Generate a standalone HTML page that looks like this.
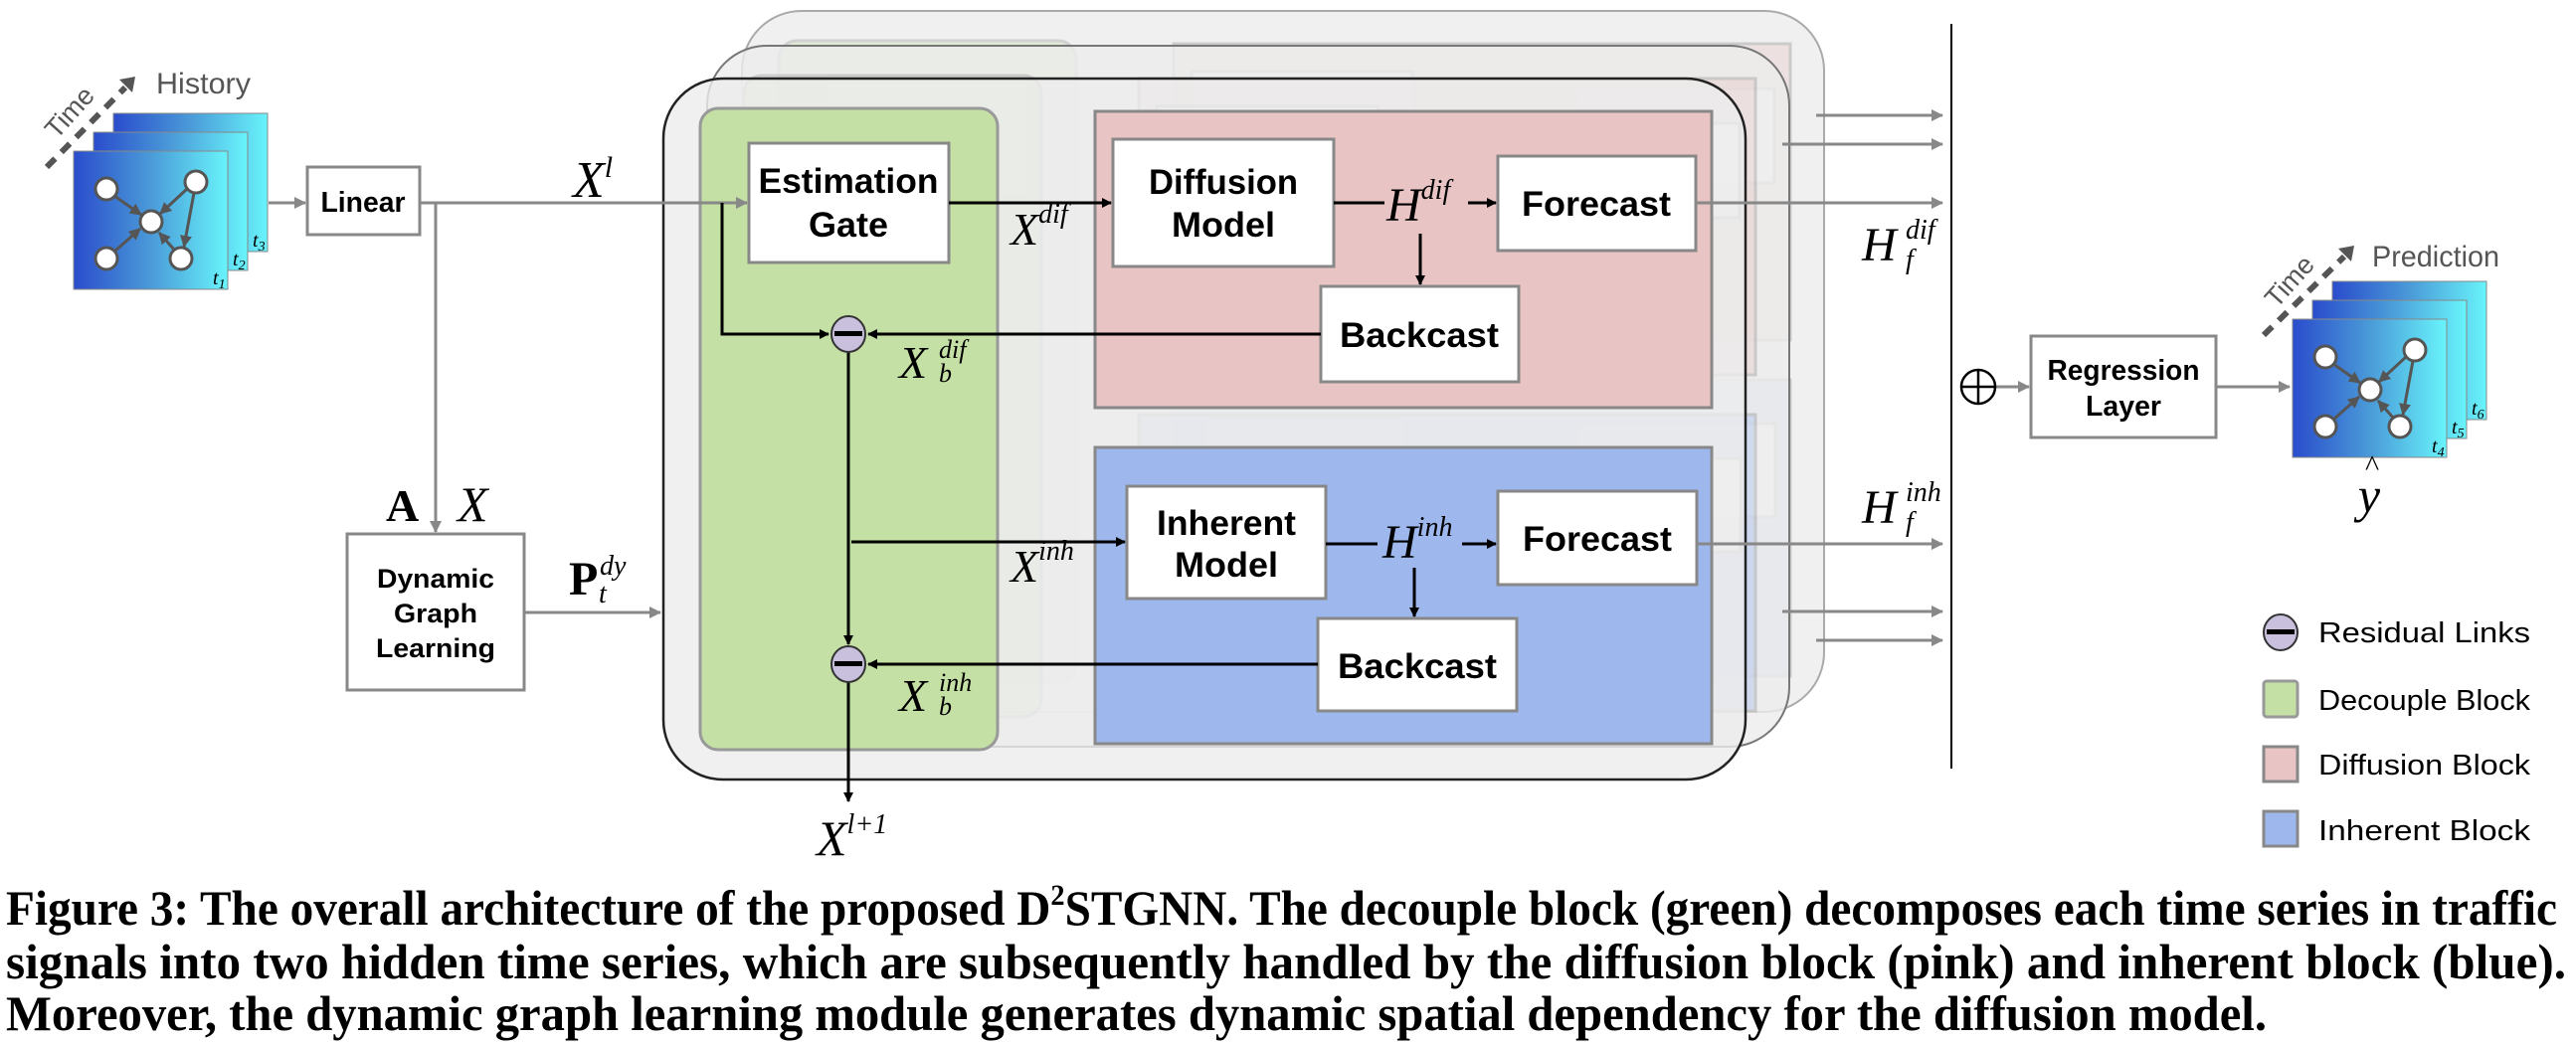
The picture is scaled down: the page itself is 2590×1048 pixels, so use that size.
<!DOCTYPE html>
<html><head><meta charset="utf-8"><style>
html,body{margin:0;padding:0;background:#fff;}
svg{display:block;}
.b{font-family:"Liberation Sans",sans-serif;font-weight:bold;fill:#000;}
.m{font-family:"Liberation Serif",serif;font-style:italic;fill:#000;}
.cap{font-family:"Liberation Serif",serif;font-weight:bold;fill:#000;font-size:50px;}
</style></head><body>
<svg width="2590" height="1048" viewBox="0 0 2590 1048" xmlns="http://www.w3.org/2000/svg">
<defs>
<marker id="ak" markerWidth="10" markerHeight="10" refX="9" refY="5" orient="auto" markerUnits="userSpaceOnUse"><path d="M0,0 L10,5 L0,10 z" fill="#000"/></marker>
<marker id="ag" markerWidth="12" markerHeight="12" refX="11" refY="6" orient="auto" markerUnits="userSpaceOnUse"><path d="M0,0 L12,6 L0,12 z" fill="#888"/></marker>
<marker id="an" markerWidth="12" markerHeight="12" refX="11" refY="6" orient="auto" markerUnits="userSpaceOnUse"><path d="M0,0 L12,6 L0,12 z" fill="#555"/></marker>
<linearGradient id="fg" x1="0" x2="1" y1="0" y2="0"><stop offset="0" stop-color="#2a4ccc"/><stop offset="0.5" stop-color="#4a9ad8"/><stop offset="1" stop-color="#68f4fb"/></linearGradient>
<g id="layer">
  <rect x="704" y="109" width="299" height="645" rx="18" fill="#c5e0a5" stroke="#999" stroke-width="3"/>
  <rect x="1101" y="112" width="620" height="298" fill="#e8c4c4" stroke="#888" stroke-width="3"/>
  <rect x="1101" y="450" width="620" height="298" fill="#9eb8ee" stroke="#888" stroke-width="3"/>
  <rect x="753" y="144" width="201" height="120" fill="#fff" stroke="#888" stroke-width="3"/>
  <rect x="1119" y="140" width="222" height="128" fill="#fff" stroke="#888" stroke-width="3"/>
  <rect x="1506" y="157" width="199" height="95" fill="#fff" stroke="#888" stroke-width="3"/>
  <rect x="1328" y="288" width="199" height="96" fill="#fff" stroke="#888" stroke-width="3"/>
  <rect x="1133" y="489" width="200" height="113" fill="#fff" stroke="#888" stroke-width="3"/>
  <rect x="1506" y="494" width="200" height="94" fill="#fff" stroke="#888" stroke-width="3"/>
  <rect x="1325" y="622" width="200" height="93" fill="#fff" stroke="#888" stroke-width="3"/>
</g>
<g id="frame">
  <rect x="40" y="-38" width="155" height="139" fill="url(#fg)" stroke="#888" stroke-width="1"/>
  <rect x="20" y="-19" width="155" height="139" fill="url(#fg)" stroke="#888" stroke-width="1"/>
  <rect x="0" y="0" width="155" height="139" fill="url(#fg)" stroke="#888" stroke-width="1"/>
  <g stroke="#555" stroke-width="3" fill="none">
    <line x1="41" y1="45" x2="68" y2="64" marker-end="url(#an)"/>
    <line x1="114" y1="38" x2="87" y2="63" marker-end="url(#an)"/>
    <line x1="121" y1="42" x2="111" y2="96" marker-end="url(#an)"/>
    <line x1="41" y1="101" x2="67" y2="78" marker-end="url(#an)"/>
    <line x1="101" y1="99" x2="86" y2="82" marker-end="url(#an)"/>
  </g>
  <g fill="#fff" stroke="#555" stroke-width="3">
    <circle cx="33" cy="38" r="11"/><circle cx="123" cy="31" r="11"/><circle cx="78" cy="71" r="11"/>
    <circle cx="33" cy="108" r="11"/><circle cx="108" cy="108" r="11"/>
  </g>
</g>
</defs>

<!-- stacked layers -->
<g transform="translate(79,-68)">
  <rect x="667" y="79" width="1088" height="705" rx="60" fill="#f0f0f0" stroke="#aaa" stroke-width="2"/>
  <use href="#layer" opacity="0.35"/>
</g>
<g transform="translate(44,-33)">
  <rect x="667" y="79" width="1088" height="705" rx="60" fill="rgba(236,236,236,0.8)" stroke="#777" stroke-width="2"/>
  <use href="#layer" opacity="0.35"/>
</g>
<rect x="667" y="79" width="1088" height="705" rx="60" fill="rgba(236,236,236,0.8)" stroke="#222" stroke-width="2.5"/>
<use href="#layer"/>

<!-- history -->
<use href="#frame" transform="translate(74,152)"/>
<g class="m" font-size="20"><text x="214" y="286">t<tspan font-size="14" dy="4">1</tspan></text><text x="234" y="267">t<tspan font-size="14" dy="4">2</tspan></text><text x="254" y="248">t<tspan font-size="14" dy="4">3</tspan></text></g>
<line x1="47" y1="168" x2="126" y2="88" stroke="#555" stroke-width="6" stroke-dasharray="12,9"/>
<path d="M120,80 L136,77 L133,93 z" fill="#555"/>
<text x="70" y="122" font-family="Liberation Sans,sans-serif" font-size="27" fill="#555" transform="rotate(-48 70 113)" text-anchor="middle">Time</text>
<text x="157" y="94" font-family="Liberation Sans,sans-serif" font-size="30" fill="#555" textLength="95" lengthAdjust="spacingAndGlyphs">History</text>

<!-- prediction -->
<use href="#frame" transform="translate(2305,321)"/>
<g class="m" font-size="20"><text x="2445" y="455">t<tspan font-size="14" dy="4">4</tspan></text><text x="2465" y="436">t<tspan font-size="14" dy="4">5</tspan></text><text x="2485" y="417">t<tspan font-size="14" dy="4">6</tspan></text></g>
<line x1="2276" y1="337" x2="2357" y2="258" stroke="#555" stroke-width="6" stroke-dasharray="12,9"/>
<path d="M2351,250 L2367,247 L2364,263 z" fill="#555"/>
<text x="2302" y="292" font-family="Liberation Sans,sans-serif" font-size="27" fill="#555" transform="rotate(-48 2302 283)" text-anchor="middle">Time</text>
<text x="2385" y="268" font-family="Liberation Sans,sans-serif" font-size="30" fill="#555" textLength="128" lengthAdjust="spacingAndGlyphs">Prediction</text>
<text x="2382" y="515" class="m" font-size="50" text-anchor="middle">y</text>
<text x="2385" y="478" font-family="Liberation Serif,serif" font-size="30" text-anchor="middle">^</text>

<!-- Linear & DGL -->
<rect x="309" y="168" width="113" height="68" fill="#fff" stroke="#888" stroke-width="3"/>
<text x="365" y="213" class="b" font-size="29" text-anchor="middle" textLength="85" lengthAdjust="spacingAndGlyphs">Linear</text>
<rect x="349" y="537" width="178" height="157" fill="#fff" stroke="#888" stroke-width="3"/>
<g class="b" font-size="27" text-anchor="middle">
<text x="438" y="591" textLength="118" lengthAdjust="spacingAndGlyphs">Dynamic</text>
<text x="438" y="626" textLength="84" lengthAdjust="spacingAndGlyphs">Graph</text>
<text x="438" y="661" textLength="120" lengthAdjust="spacingAndGlyphs">Learning</text>
</g>

<!-- gray connectors -->
<g stroke="#888" stroke-width="3" fill="none">
<line x1="270" y1="204" x2="307" y2="204" marker-end="url(#ag)"/>
<line x1="422" y1="204" x2="751" y2="204" marker-end="url(#ag)"/>
<line x1="438" y1="204" x2="438" y2="535" marker-end="url(#ag)"/>
<line x1="527" y1="616" x2="664" y2="616" marker-end="url(#ag)"/>
<line x1="1705" y1="204" x2="1953" y2="204" marker-end="url(#ag)"/>
<line x1="1706" y1="547" x2="1953" y2="547" marker-end="url(#ag)"/>
<line x1="1826" y1="116" x2="1953" y2="116" marker-end="url(#ag)"/>
<line x1="1792" y1="145" x2="1953" y2="145" marker-end="url(#ag)"/>
<line x1="1792" y1="615" x2="1953" y2="615" marker-end="url(#ag)"/>
<line x1="1826" y1="644" x2="1953" y2="644" marker-end="url(#ag)"/>
<line x1="2006" y1="389" x2="2040" y2="389" marker-end="url(#ag)"/>
<line x1="2228" y1="389" x2="2302" y2="389" marker-end="url(#ag)"/>
</g>

<!-- black connectors -->
<g stroke="#000" stroke-width="3" fill="none">
<line x1="954" y1="204" x2="1117" y2="204" marker-end="url(#ak)"/>
<polyline points="726,204 726,336 833,336" marker-end="url(#ak)"/>
<line x1="1341" y1="204" x2="1392" y2="204"/>
<line x1="1476" y1="204" x2="1504" y2="204" marker-end="url(#ak)"/>
<line x1="1428" y1="235" x2="1428" y2="286" marker-end="url(#ak)"/>
<line x1="1328" y1="336" x2="873" y2="336" marker-end="url(#ak)"/>
<line x1="853" y1="354" x2="853" y2="648" marker-end="url(#ak)"/>
<line x1="856" y1="545" x2="1131" y2="545" marker-end="url(#ak)"/>
<line x1="1333" y1="547" x2="1385" y2="547"/>
<line x1="1470" y1="547" x2="1504" y2="547" marker-end="url(#ak)"/>
<line x1="1422" y1="571" x2="1422" y2="620" marker-end="url(#ak)"/>
<line x1="1325" y1="668" x2="873" y2="668" marker-end="url(#ak)"/>
<line x1="853" y1="686" x2="853" y2="806" marker-end="url(#ak)"/>
</g>
<line x1="1962" y1="24" x2="1962" y2="773" stroke="#000" stroke-width="2"/>

<!-- residual circles -->
<g stroke="#333" stroke-width="2">
<ellipse cx="853" cy="336" rx="17" ry="18" fill="#c8c0dc"/>
<ellipse cx="853" cy="668" rx="17" ry="18" fill="#c8c0dc"/>
</g>
<rect x="839" y="333" width="28" height="5" fill="#000"/>
<rect x="839" y="665" width="28" height="5" fill="#000"/>

<!-- oplus -->
<circle cx="1989" cy="389" r="17" fill="#fff" stroke="#000" stroke-width="2.5"/>
<line x1="1972" y1="389" x2="2006" y2="389" stroke="#000" stroke-width="2.5"/>
<line x1="1989" y1="372" x2="1989" y2="406" stroke="#000" stroke-width="2.5"/>

<!-- regression -->
<rect x="2042" y="338" width="186" height="102" fill="#fff" stroke="#888" stroke-width="3"/>
<g class="b" font-size="29" text-anchor="middle">
<text x="2135" y="382" textLength="153" lengthAdjust="spacingAndGlyphs">Regression</text>
<text x="2135" y="418" textLength="76" lengthAdjust="spacingAndGlyphs">Layer</text>
</g>

<!-- block text -->
<g class="b" font-size="35" text-anchor="middle">
<text x="853" y="194" textLength="181" lengthAdjust="spacingAndGlyphs">Estimation</text>
<text x="853" y="238" textLength="80" lengthAdjust="spacingAndGlyphs">Gate</text>
<text x="1230" y="195" textLength="150" lengthAdjust="spacingAndGlyphs">Diffusion</text>
<text x="1230" y="238" textLength="104" lengthAdjust="spacingAndGlyphs">Model</text>
<text x="1605" y="217" textLength="150" lengthAdjust="spacingAndGlyphs">Forecast</text>
<text x="1427" y="349" textLength="160" lengthAdjust="spacingAndGlyphs">Backcast</text>
<text x="1233" y="538" textLength="140" lengthAdjust="spacingAndGlyphs">Inherent</text>
<text x="1233" y="580" textLength="104" lengthAdjust="spacingAndGlyphs">Model</text>
<text x="1606" y="554" textLength="150" lengthAdjust="spacingAndGlyphs">Forecast</text>
<text x="1425" y="682" textLength="160" lengthAdjust="spacingAndGlyphs">Backcast</text>
</g>

<!-- math labels -->
<g class="m">
<text x="576" y="198" font-size="52">X<tspan font-size="30" dy="-20">l</tspan></text>
<text x="1016" y="246" font-size="46">X<tspan font-size="28" dy="-22">dif</tspan></text>
<text x="904" y="380" font-size="46">X</text><text x="944" y="360" font-size="26">dif</text><text x="944" y="384" font-size="26">b</text>
<text x="1016" y="585" font-size="46">X<tspan font-size="28" dy="-22">inh</tspan></text>
<text x="904" y="715" font-size="46">X</text><text x="944" y="695" font-size="26">inh</text><text x="944" y="719" font-size="26">b</text>
<text x="1394" y="222" font-size="48">H<tspan font-size="28" dy="-22">dif</tspan></text>
<text x="1390" y="561" font-size="48">H<tspan font-size="28" dy="-22">inh</tspan></text>
<text x="1872" y="262" font-size="48">H</text><text x="1916" y="240" font-size="28">dif</text><text x="1916" y="270" font-size="28">f</text>
<text x="1872" y="526" font-size="48">H</text><text x="1916" y="504" font-size="28">inh</text><text x="1916" y="534" font-size="28">f</text>
<text x="460" y="524" font-size="50">X</text>
<text x="821" y="860" font-size="50">X<tspan font-size="28" dy="-22">l+1</tspan></text>
<text x="600" y="982" font-size="26"></text>
</g>
<text x="388" y="524" font-family="Liberation Serif,serif" font-weight="bold" font-size="46">A</text>
<text x="572" y="598" font-family="Liberation Serif,serif" font-weight="bold" font-size="48">P</text>
<text x="603" y="578" class="m" font-size="28">dy</text>
<text x="602" y="606" class="m" font-size="28">t</text>

<!-- legend -->
<ellipse cx="2293" cy="636" rx="17" ry="18" fill="#c8c0dc" stroke="#333" stroke-width="2"/>
<rect x="2279" y="633" width="28" height="5" fill="#000"/>
<rect x="2276" y="685" width="34" height="36" rx="3" fill="#c5e0a5" stroke="#999" stroke-width="3"/>
<rect x="2276" y="751" width="34" height="35" fill="#e8c4c4" stroke="#888" stroke-width="3"/>
<rect x="2276" y="816" width="34" height="35" fill="#9eb8ee" stroke="#888" stroke-width="3"/>
<g font-family="Liberation Sans,sans-serif" font-size="29" fill="#000">
<text x="2331" y="646" textLength="213" lengthAdjust="spacingAndGlyphs">Residual   Links</text>
<text x="2331" y="714" textLength="213" lengthAdjust="spacingAndGlyphs">Decouple Block</text>
<text x="2331" y="779" textLength="213" lengthAdjust="spacingAndGlyphs">Diffusion  Block</text>
<text x="2331" y="845" textLength="213" lengthAdjust="spacingAndGlyphs">Inherent   Block</text>
</g>

<!-- caption -->
<text class="cap" x="6" y="930" textLength="2565" lengthAdjust="spacingAndGlyphs">Figure 3: The overall architecture of the proposed D<tspan font-size="30" dy="-20">2</tspan><tspan dy="20">STGNN. The decouple block (green) decomposes each time series in traffic</tspan></text>
<text class="cap" x="6" y="984" textLength="2574" lengthAdjust="spacingAndGlyphs">signals into two hidden time series, which are subsequently handled by the diffusion block (pink) and inherent block (blue).</text>
<text class="cap" x="6" y="1036" textLength="2273" lengthAdjust="spacingAndGlyphs">Moreover, the dynamic graph learning module generates dynamic spatial dependency for the diffusion model.</text>
</svg>
</body></html>
